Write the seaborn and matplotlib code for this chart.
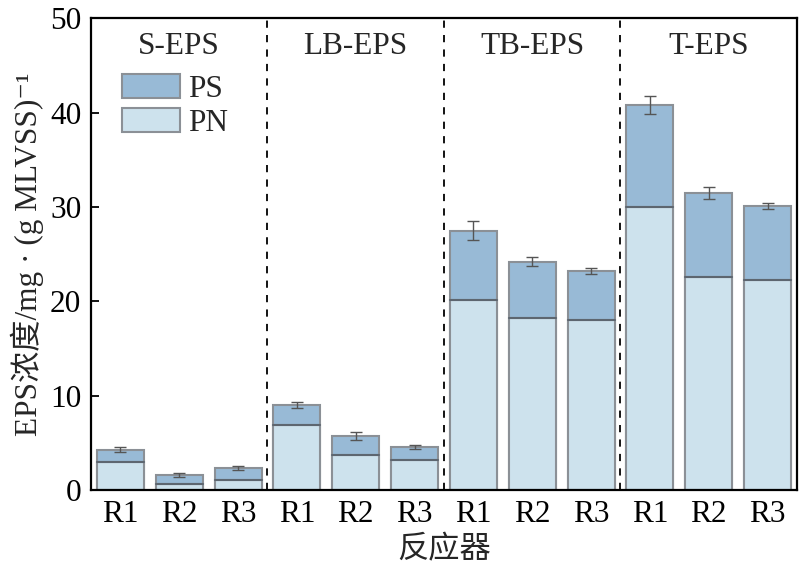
import matplotlib
matplotlib.use("Agg")
import matplotlib.pyplot as plt
import seaborn as sns
import pandas as pd
import numpy as np

groups = ["S-EPS", "LB-EPS", "TB-EPS", "T-EPS"]
reactors = ["R1", "R2", "R3"]
pn = [3.0, 0.67, 1.13, 6.96, 3.7, 3.21, 20.1, 18.2, 18.0, 30.0, 22.6, 22.3]
total = [4.3, 1.6, 2.33, 9.04, 5.75, 4.59, 27.5, 24.2, 23.2, 40.85, 31.5, 30.1]
err = [0.3, 0.2, 0.2, 0.3, 0.4, 0.2, 1.0, 0.5, 0.3, 0.95, 0.65, 0.3]

ids = [f"{g} {r}" for g in groups for r in reactors]
labels = [r for g in groups for r in reactors]
df = pd.DataFrame({"id": ids, "PN": pn, "Total": total, "err": err})

sns.set_theme(style="white")
plt.rcParams['font.family'] = ['Liberation Serif', 'Noto Sans CJK SC', 'DejaVu Sans']

c_ps = "#98bad6"
c_pn = "#cde2ed"
c_edge = "#8b9096"
fs = 22.5

fig = plt.figure(figsize=(8.05, 5.70), dpi=100)
ax = fig.add_axes([0.113, 0.140, 0.877, 0.828])

sns.barplot(data=df, x="id", y="Total", order=ids, color=c_ps, edgecolor=c_edge,
            linewidth=1.5, width=0.8, saturation=1, ax=ax, label="PS")
n_tot = len(ax.patches)
sns.barplot(data=df, x="id", y="PN", order=ids, color=c_pn, edgecolor=c_edge,
            linewidth=1.5, width=0.8, saturation=1, ax=ax, label="PN")
pn_patches = ax.patches[n_tot:]
for p in pn_patches:
    ax.plot([p.get_x(), p.get_x() + p.get_width()], [p.get_height(), p.get_height()],
            color="#5d6670", lw=1.5, zorder=3)

xs = np.arange(len(ids))
ax.errorbar(xs, df["Total"], yerr=df["err"], fmt="none", ecolor="#555555",
            elinewidth=1.0, capsize=4, capthick=1.0, zorder=4)

for b in [2.5, 5.5, 8.5]:
    ax.axvline(b, color="black", ls=(0, (4, 4)), lw=1.3, zorder=1)

for i, g in enumerate(groups):
    ax.text(3 * i + 1, 47.0, g, ha="center", va="center", fontsize=fs)

ax.set_xlim(-0.5, 11.5)
ax.set_ylim(0, 50)
ax.set_yticks([0, 10, 20, 30, 40, 50])
ax.set_xticks(xs)
ax.set_xticklabels(labels)
ax.tick_params(axis="both", direction="in", length=6, width=1.3, labelsize=fs,
               colors="black", pad=7, bottom=True, left=True, top=False, right=False)
for s in ax.spines.values():
    s.set_color("black")
    s.set_linewidth(1.6)
ax.set_xlabel("反应器", fontsize=fs, labelpad=5)
ax.set_ylabel("EPS浓度/mg · (g MLVSS)⁻¹", fontsize=fs, labelpad=4)

h, l = ax.get_legend_handles_labels()
ax.legend(h, l, loc="upper left", bbox_to_anchor=(0.044, 0.882), frameon=False,
          fontsize=fs, handlelength=1.85, handleheight=0.8, labelspacing=0.15,
          handletextpad=0.25, borderaxespad=0, borderpad=0)

fig.savefig("out.png", dpi=100)
